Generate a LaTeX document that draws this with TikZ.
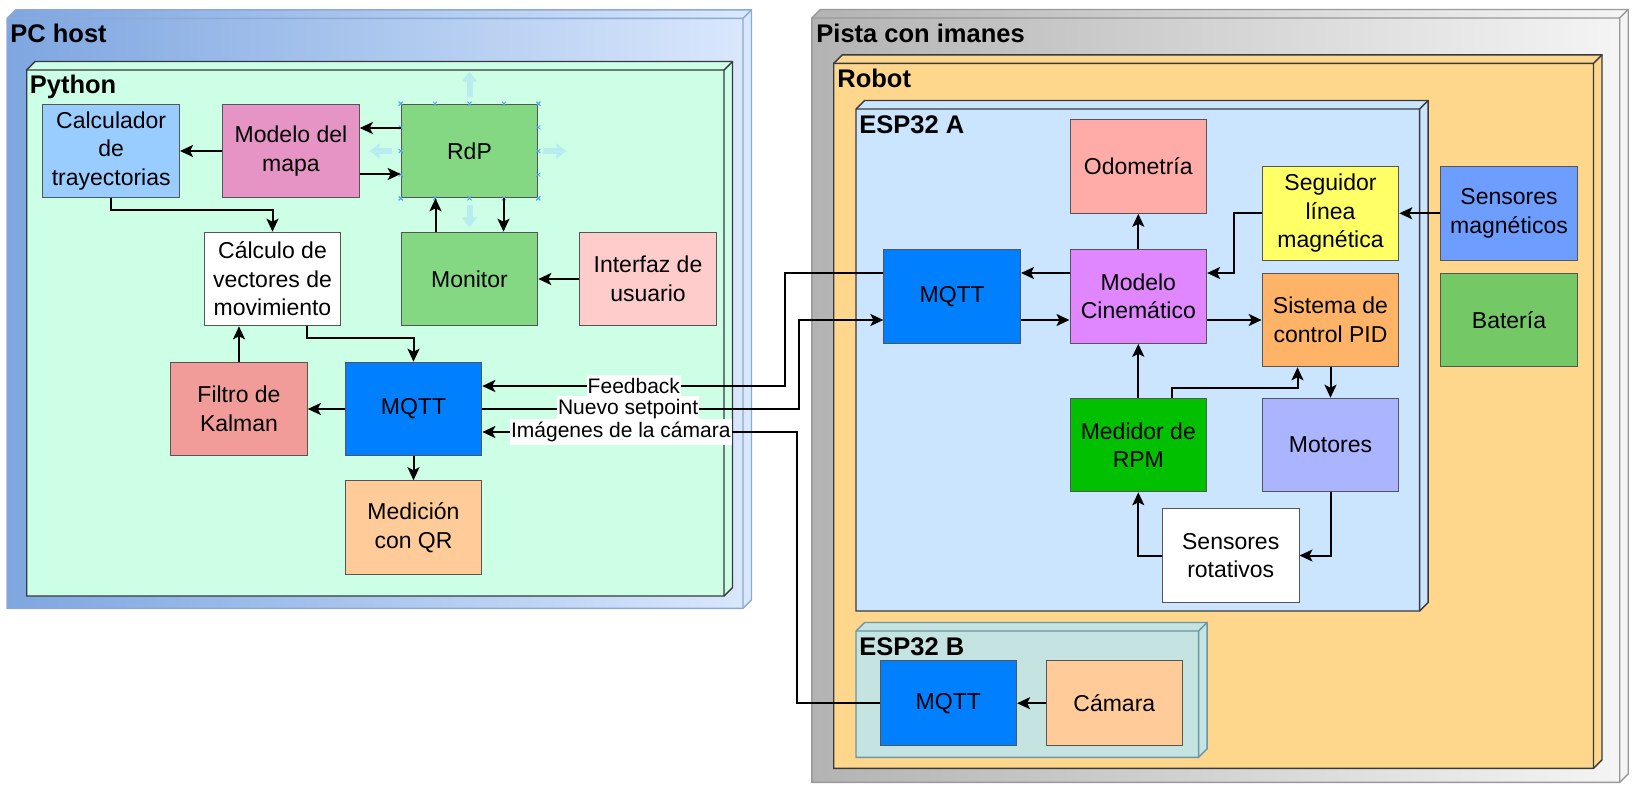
\documentclass[tikz,border=0pt]{standalone}
\usepackage{fontspec}
\setmainfont{Liberation Sans}
\usetikzlibrary{calc,positioning,arrows.meta}

\definecolor{pcleft}{HTML}{7EA6E0}
\definecolor{pcright}{HTML}{DAE8FC}
\definecolor{pcline}{HTML}{8DA9D6}
\definecolor{pyfill}{HTML}{CCFFE6}
\definecolor{darkline}{HTML}{36393D}
\definecolor{pistaleft}{HTML}{B3B3B3}
\definecolor{pistaright}{HTML}{F5F5F5}
\definecolor{grayline}{HTML}{999999}
\definecolor{robotfill}{HTML}{FFD78C}
\definecolor{espafill}{HTML}{CCE5FF}
\definecolor{espbfill}{HTML}{C4E3E1}
\definecolor{espbline}{HTML}{6A96A6}
\definecolor{boxline}{HTML}{555555}
\definecolor{calcfill}{HTML}{99CCFF}
\definecolor{mapfill}{HTML}{E694C6}
\definecolor{rdpfill}{HTML}{84D884}
\definecolor{uifill}{HTML}{FFCCCC}
\definecolor{kalfill}{HTML}{F19C99}
\definecolor{mqttfill}{HTML}{007FFF}
\definecolor{qrfill}{HTML}{FFCC99}
\definecolor{odofill}{HTML}{FFACA8}
\definecolor{segfill}{HTML}{FFFF66}
\definecolor{smagfill}{HTML}{6D9EFF}
\definecolor{cinefill}{HTML}{E086FF}
\definecolor{pidfill}{HTML}{FFB366}
\definecolor{batfill}{HTML}{74C966}
\definecolor{rpmfill}{HTML}{00C000}
\definecolor{motfill}{HTML}{AAB4FF}
\definecolor{hintcyan}{HTML}{B8ECEE}
\definecolor{handlecol}{HTML}{4FA8DC}

\tikzset{
  box/.style={draw=boxline, line width=0.5pt, minimum width=68.3pt, minimum height=46.8pt,
    align=center, inner sep=0pt, font=\fontsize{11.5}{14.25}\selectfont},
  conn/.style={line width=1pt, -{Stealth[length=6.5pt,width=6pt,inset=1.5pt]}},
  lbl/.style={fill=white, inner xsep=0.5pt, inner ysep=1.5pt, font=\fontsize{10.5}{12}\selectfont},
  title/.style={anchor=base west, inner sep=0pt, font=\bfseries\fontsize{12.75}{15}\selectfont},
  frame/.style={line width=0.7pt, line join=miter},
  hint/.style={line width=3pt, draw=hintcyan, -{Triangle[length=5pt,width=7.5pt]}},
  handle/.style={line width=0.4pt, draw=handlecol},
}

% 3D container: front face corners, fill options, line colour
\newcommand{\container}[6]{%
  \draw[frame, draw=#6, #5] (#1,#2) -- ++(8.5,-8.5) -- (#3+8.5,#2-8.5) -- (#3+8.5,#4-8.5)
    -- (#3,#4) -- (#1,#4) -- cycle;
  \draw[frame, draw=#6] (#1,#2) -- (#3,#2) -- (#3,#4) (#3,#2) -- ++(8.5,-8.5);
}

\begin{document}
\begin{tikzpicture}[x=0.5pt,y=-0.5pt]
  \useasboundingbox (0,0) rectangle (1639,794);

  % PC host
  \container{7}{18.3}{743}{608.3}{left color=pcleft,right color=pcright}{pcline}
  \node[title] (pclbl) at (10,42.7) {PC host};

  % Python
  \container{26.7}{70}{724}{596}{fill=pyfill}{darkline}
  \node[title] (pylbl) at (29.5,93) {Python};

  % Pista con imanes
  \container{811.8}{18}{1619.7}{782.3}{left color=pistaleft,right color=pistaright}{grayline}
  \node[title] (pistalbl) at (816,42.7) {Pista con imanes};

  % Robot
  \container{833.7}{63.3}{1593.5}{768.3}{fill=robotfill}{darkline}
  \node[title] (robotlbl) at (837,87) {Robot};

  % ESP32 A
  \container{856}{109}{1419.6}{611}{fill=espafill}{darkline}
  \node[title] (espalbl) at (859,133) {ESP32 A};

  % ESP32 B
  \container{856}{631}{1198.6}{757.3}{fill=espbfill}{espbline}
  \node[title] (espblbl) at (859,655) {ESP32 B};

  % Blocks of Python
  \node[box, fill=calcfill] (calc) at (111.2,151) {Calculador\\de\\trayectorias};
  \node[box, fill=mapfill] (mapa) at (291,151) {Modelo del\\mapa};
  \node[box, fill=rdpfill] (rdp) at (469.5,151) {RdP};
  \node[box, fill=white] (vect) at (272.5,279) {Cálculo de\\vectores de\\movimiento};
  \node[box, fill=rdpfill] (monitor) at (469.5,279) {Monitor};
  \node[box, fill=uifill] (ui) at (648,279) {Interfaz de\\usuario};
  \node[box, fill=kalfill] (kalman) at (239,409) {Filtro de\\Kalman};
  \node[box, fill=mqttfill] (pmqtt) at (413.5,409) {MQTT};
  \node[box, fill=qrfill] (qr) at (413.5,527.5) {Medición\\con QR};

  % Blocks of the robot
  \node[box, fill=odofill] (odo) at (1138.3,166.5) {Odometría};
  \node[box, fill=segfill] (seg) at (1330.5,213.3) {Seguidor\\línea\\magnética};
  \node[box, fill=smagfill] (smag) at (1509,213.3) {Sensores\\magnéticos};
  \node[box, fill=mqttfill] (rmqtt) at (952.2,296.5) {MQTT};
  \node[box, fill=cinefill] (cine) at (1138.3,296.5) {Modelo\\Cinemático};
  \node[box, fill=pidfill] (pid) at (1330.5,320) {Sistema de\\control PID};
  \node[box, fill=batfill] (bat) at (1509,320) {Batería};
  \node[box, fill=rpmfill] (rpm) at (1138.3,445) {Medidor de\\RPM};
  \node[box, fill=motfill] (mot) at (1330.5,445) {Motores};
  \node[box, fill=white] (srot) at (1230.7,555.5) {Sensores\\rotativos};
  \node[box, fill=mqttfill, minimum height=42.5pt] (bmqtt) at (948.3,703.2) {MQTT};
  \node[box, fill=qrfill, minimum height=42.5pt] (cam) at (1114.3,703.2) {Cámara};

  % Hover hints round RdP
  \draw[hint] ($(rdp.north)+(0,-7)$) -- ++(0,-25);
  \draw[hint] ($(rdp.south)+(0,7)$) -- ++(0,22);
  \draw[hint] ($(rdp.west)+(-9,0)$) -- ++(-22,0);
  \draw[hint] ($(rdp.east)+(5,0)$) -- ++(23,0);
  \foreach \f in {0,0.25,0.5,0.75,1} {
    \draw[handle] ($(rdp.north west)!\f!(rdp.north east)$) +(-2,-2) -- +(2,2) +(-2,2) -- +(2,-2);
    \draw[handle] ($(rdp.south west)!\f!(rdp.south east)$) +(-2,-2) -- +(2,2) +(-2,2) -- +(2,-2);
    \draw[handle] ($(rdp.north west)!\f!(rdp.south west)$) +(-2,-2) -- +(2,2) +(-2,2) -- +(2,-2);
    \draw[handle] ($(rdp.north east)!\f!(rdp.south east)$) +(-2,-2) -- +(2,2) +(-2,2) -- +(2,-2);
  }

  % Arrows in Python
  \draw[conn] (mapa.west) -- (calc.east);
  \draw[conn] ($(rdp.west)+(0,-23)$) -- ($(mapa.east)+(0,-23)$);
  \draw[conn] ($(mapa.east)+(0,23)$) -- ($(rdp.west)+(0,23)$);
  \draw[conn] (calc.south) -- ++(0,12) -| (vect.north);
  \draw[conn] ($(monitor.north)+(-34,0)$) -- ($(rdp.south)+(-34,0)$);
  \draw[conn] ($(rdp.south)+(34,0)$) -- ($(monitor.north)+(34,0)$);
  \draw[conn] (ui.west) -- (monitor.east);
  \draw[conn] (kalman.north) -- (kalman.north |- vect.south);
  \draw[conn] ($(vect.south)+(34,0)$) -- ++(0,12) -| (pmqtt.north);
  \draw[conn] (pmqtt.west) -- (kalman.east);
  \draw[conn] (pmqtt.south) -- (qr.north);

  % Arrows in the robot
  \draw[conn] (cine.north) -- (odo.south);
  \draw[conn] ($(cine.west)+(0,-23.5)$) -- ($(rmqtt.east)+(0,-23.5)$);
  \draw[conn] ($(rmqtt.east)+(0,23.5)$) -- ($(cine.west)+(0,23.5)$);
  \draw[conn] (seg.west) -- ++(-27.8,0) |- ($(cine.east)+(0,-23.5)$);
  \draw[conn] (smag.west) -- (seg.east);
  \draw[conn] ($(cine.east)+(0,23.5)$) -- (pid.west);
  \draw[conn] (rpm.north) -- (cine.south);
  \draw[conn] ($(rpm.north)+(33.5,0)$) -- ++(0,-10) -| ($(pid.south)+(-33,0)$);
  \draw[conn] (pid.south) -- (mot.north);
  \draw[conn] (mot.south) |- (srot.east);
  \draw[conn] (srot.west) -| (rpm.south);
  \draw[conn] (cam.west) -- (bmqtt.east);

  % Messages between PC and robot
  \draw[conn] ($(rmqtt.west)+(0,-23.5)$) -- ++(-98,0) |- ($(pmqtt.east)+(0,-23)$)
    node[lbl, pos=0.75] {Feedback};
  \draw[conn] (pmqtt.east) -- ++(317,0) node[lbl, pos=0.46] {Nuevo setpoint}
    |- ($(rmqtt.west)+(0,23.5)$);
  \draw[conn] (bmqtt.west) -- ++(-82.4,0) |- ($(pmqtt.east)+(0,23)$)
    node[lbl, pos=0.78] {Imágenes de la cámara};

\end{tikzpicture}
\end{document}
